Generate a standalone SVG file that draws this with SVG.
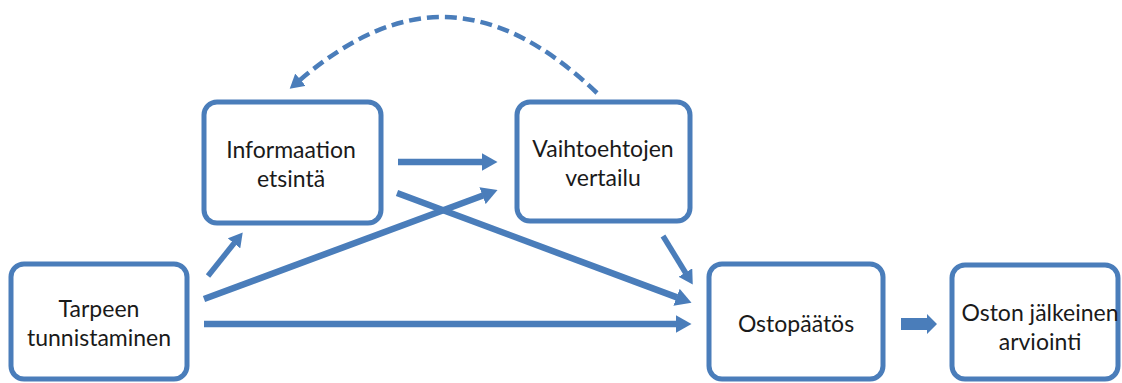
<svg xmlns="http://www.w3.org/2000/svg" width="1122" height="383" viewBox="0 0 1122 383">
  <style>
    .box { fill: #ffffff; stroke: #4a7dba; stroke-width: 5; }
    .lbl { font-family: Lato, "Liberation Sans", sans-serif; font-size: 23px; fill: #1a1a1a; text-anchor: middle; }
    .con { fill: none; stroke: #4a7dba; stroke-width: 6.5; }
    .thin { stroke-width: 5.5; }
    .dash { fill: none; stroke: #4a7dba; stroke-width: 4.5; stroke-dasharray: 12 6; }
  </style>
  <defs>
    <marker id="ah" markerUnits="userSpaceOnUse" viewBox="0 0 16 18" markerWidth="16" markerHeight="18" refX="0.5" refY="9" orient="auto">
      <path d="M0,0 L16,9 L0,18 z" fill="#4a7dba"/>
    </marker>
    <marker id="ahs" markerUnits="userSpaceOnUse" viewBox="0 0 14 16" markerWidth="14" markerHeight="16" refX="0.5" refY="8" orient="auto">
      <path d="M0,0 L14,8 L0,16 z" fill="#4a7dba"/>
    </marker>
  </defs>
  <rect width="1122" height="383" fill="#ffffff"/>

  <g id="connectors">
    <line class="con thin" x1="208" y1="276" x2="234.3" y2="243" marker-end="url(#ahs)"/>
    <line class="con" x1="204" y1="299" x2="483" y2="195.5" marker-end="url(#ah)"/>
    <line class="con" x1="397" y1="193" x2="677" y2="297.4" marker-end="url(#ah)"/>
    <line class="con" x1="398" y1="162" x2="482" y2="162" marker-end="url(#ah)"/>
    <line class="con" x1="204" y1="324" x2="676" y2="324" marker-end="url(#ah)"/>
    <line class="con thin" x1="663" y1="236" x2="685.7" y2="273" marker-end="url(#ahs)"/>
    <path class="dash" d="M597,93 C492,-7 400,-5 300,80" marker-end="url(#ahs)"/>
    <polygon points="901,318 927,318 927,314 937,324 927,334 927,330 901,330" fill="#4a7dba"/>
  </g>

  <g id="node-tarpeen">
    <rect class="box" x="11" y="264" width="176" height="115" rx="13"/>
    <text class="lbl" x="99" y="317">Tarpeen</text>
    <text class="lbl" x="99" y="346">tunnistaminen</text>
  </g>
  <g id="node-informaation">
    <rect class="box" x="204" y="102" width="177" height="121" rx="13"/>
    <text class="lbl" x="291" y="158">Informaation</text>
    <text class="lbl" x="291" y="187">etsintä</text>
  </g>
  <g id="node-vaihtoehtojen">
    <rect class="box" x="517" y="102" width="173" height="119" rx="13"/>
    <text class="lbl" x="603" y="157">Vaihtoehtojen</text>
    <text class="lbl" x="603" y="186">vertailu</text>
  </g>
  <g id="node-ostopaatos">
    <rect class="box" x="709" y="264" width="174" height="115" rx="13"/>
    <text class="lbl" x="796" y="332">Ostopäätös</text>
  </g>
  <g id="node-oston">
    <rect class="box" x="952" y="265" width="166" height="114" rx="13"/>
    <text class="lbl" x="1040" y="321">Oston jälkeinen</text>
    <text class="lbl" x="1040" y="350">arviointi</text>
  </g>
</svg>
